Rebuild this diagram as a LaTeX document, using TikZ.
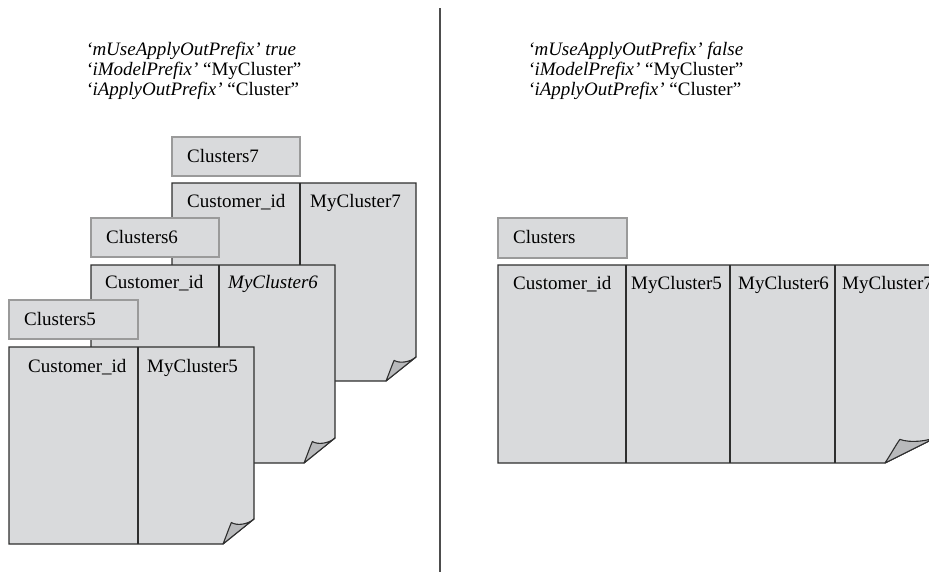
\documentclass[tikz,border=0pt]{standalone}
\usepackage{fontspec}
\setmainfont{Liberation Serif}
\definecolor{docgray}{HTML}{D9DADC}
\definecolor{flapgray}{HTML}{B8B9BB}
\definecolor{docline}{HTML}{2E2E2E}
\definecolor{boxline}{HTML}{9A9A9A}
\newcommand{\paperdoc}[6]{% L T R B fw fh
  \draw[docstyle] (#1,#2) -- (#3,#2) -- (#3,#4-#6) -- (#3-#5,#4) -- (#1,#4) -- cycle;
  \draw[flapstyle] (#3-#5,#4) .. controls (#3-#5+0.1*#5,#4-0.3*#6) and (#3-#5+0.18*#5,#4-0.6*#6) .. (#3-#5+0.27*#5,#4-0.86*#6)
     .. controls (#3-#5+0.45*#5,#4-0.72*#6) and (#3-0.2*#5,#4-0.78*#6) .. (#3,#4-#6) -- cycle;
}
\tikzset{
  docstyle/.style={draw=docline, fill=docgray, line width=1.1pt, line join=miter},
  flapstyle/.style={draw=docline, fill=flapgray, line width=1.1pt, line join=round},
  colline/.style={draw=docline, line width=1.1pt},
  tablebox/.style={draw=boxline, fill=docgray, line width=1.1pt},
  lbl/.style={anchor=base west, inner sep=0pt, font=\fontsize{19}{20}\selectfont},
}
\begin{document}
\begin{tikzpicture}[x=1pt,y=-1pt]
\useasboundingbox (0,0) rectangle (929,573);
\clip (0,0) rectangle (929,573);

% left header
\node[lbl] (lh1) at (86,55) {\itshape ‘mUseApplyOutPrefix’ true};
\node[lbl] (lh2) at (86,75) {\itshape ‘iModelPrefix’\upshape{} “MyCluster”};
\node[lbl] (lh3) at (86,95) {\itshape ‘iApplyOutPrefix’\upshape{} “Cluster”};

% right header
\node[lbl] (rh1) at (528,55) {\itshape ‘mUseApplyOutPrefix’ false};
\node[lbl] (rh2) at (528,75) {\itshape ‘iModelPrefix’\upshape{} “MyCluster”};
\node[lbl] (rh3) at (528,95) {\itshape ‘iApplyOutPrefix’\upshape{} “Cluster”};

% separator
\draw[line width=1.4pt, draw=docline!85] (440,8) -- (440,572);

% Clusters7
\draw[tablebox] (172,137) rectangle (300,176);
\node[lbl] (c7) at (187,162) {Clusters7};
\paperdoc{172}{183}{416}{381}{30}{24}
\draw[colline] (300,183) -- (300,265);
\node[lbl] (c7a) at (187,207) {Customer\_id};
\node[lbl] (c7b) at (310,207) {MyCluster7};

% Clusters6
\draw[tablebox] (91,218) rectangle (219,257);
\node[lbl] (c6) at (106,243) {Clusters6};
\paperdoc{91}{265}{335}{463}{31}{25}
\draw[colline] (219,265) -- (219,347);
\node[lbl] (c6a) at (105,288) {Customer\_id};
\node[lbl] (c6b) at (228,288) {\itshape MyCluster6};

% Clusters5
\draw[tablebox] (9,300) rectangle (138,339);
\node[lbl] (c5) at (24,325) {Clusters5};
\paperdoc{9}{347}{254}{544}{31}{25}
\draw[colline] (138,347) -- (138,544);
\node[lbl] (c5a) at (28,372) {Customer\_id};
\node[lbl] (c5b) at (147,372) {MyCluster5};

% right side
\draw[tablebox] (498,218) rectangle (627,258);
\node[lbl] (cr) at (513,243) {Clusters};
\paperdoc{498}{265}{940}{463}{55}{27.5}
\draw[colline] (626,265) -- (626,463);
\draw[colline] (730,265) -- (730,463);
\draw[colline] (835,265) -- (835,463);
\node[lbl] (cra) at (513,289) {Customer\_id};
\node[lbl] (crb) at (631,289) {MyCluster5};
\node[lbl] (crc) at (738,289) {MyCluster6};
\node[lbl] (crd) at (842,289) {MyCluster7};
\end{tikzpicture}
\end{document}
